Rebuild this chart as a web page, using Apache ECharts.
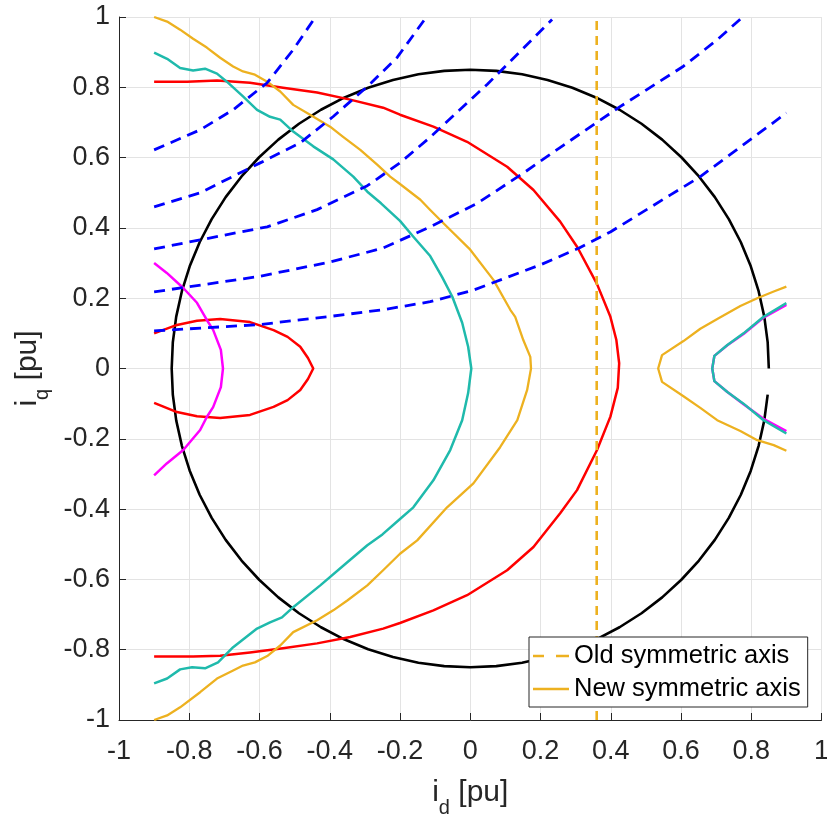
<!DOCTYPE html>
<html>
<head>
<meta charset="utf-8">
<title>Current trajectories in the dq plane</title>
<script src="https://cdn.jsdelivr.net/npm/echarts@6/dist/echarts.min.js"></script>
<style>
  html, body { margin: 0; padding: 0; background: #fff; }
  #chart { width: 827px; height: 819px; }
</style>
</head>
<body>
<div id="chart"></div>
<script>
// Axis ticks (per-unit)
const xTicks = [-1, -0.8, -0.6, -0.4, -0.2, 0, 0.2, 0.4, 0.6, 0.8, 1];
const yTicks = [-1, -0.8, -0.6, -0.4, -0.2, 0, 0.2, 0.4, 0.6, 0.8, 1];

// Current limit circle, |i| = 0.85 pu, sampled every 5 degrees from 0 to 355
const currentLimit = [
  [0.85, 0], [0.8468, 0.0741], [0.8371, 0.1476], [0.821, 0.22], [0.7987, 0.2907], [0.7704, 0.3592],
  [0.7361, 0.425], [0.6963, 0.4876], [0.6511, 0.5464], [0.601, 0.601], [0.5464, 0.6511], [0.4876, 0.6963],
  [0.425, 0.7361], [0.3592, 0.7704], [0.2907, 0.7987], [0.22, 0.821], [0.1476, 0.8371], [0.0741, 0.8468],
  [0, 0.85], [-0.0741, 0.8468], [-0.1476, 0.8371], [-0.22, 0.821], [-0.2907, 0.7987], [-0.3592, 0.7704],
  [-0.425, 0.7361], [-0.4876, 0.6963], [-0.5464, 0.6511], [-0.601, 0.601], [-0.6511, 0.5464], [-0.6963, 0.4876],
  [-0.7361, 0.425], [-0.7704, 0.3592], [-0.7987, 0.2907], [-0.821, 0.22], [-0.8371, 0.1476], [-0.8468, 0.0741],
  [-0.85, 0], [-0.8468, -0.0741], [-0.8371, -0.1476], [-0.821, -0.22], [-0.7987, -0.2907], [-0.7704, -0.3592],
  [-0.7361, -0.425], [-0.6963, -0.4876], [-0.6511, -0.5464], [-0.601, -0.601], [-0.5464, -0.6511], [-0.4876, -0.6963],
  [-0.425, -0.7361], [-0.3592, -0.7704], [-0.2907, -0.7987], [-0.22, -0.821], [-0.1476, -0.8371], [-0.0741, -0.8468],
  [0, -0.85], [0.0741, -0.8468], [0.1476, -0.8371], [0.22, -0.821], [0.2907, -0.7987], [0.3592, -0.7704],
  [0.425, -0.7361], [0.4876, -0.6963], [0.5464, -0.6511], [0.601, -0.601], [0.6511, -0.5464], [0.6963, -0.4876],
  [0.7361, -0.425], [0.7704, -0.3592], [0.7987, -0.2907], [0.821, -0.22], [0.8371, -0.1476], [0.8468, -0.0741]
];

// Large red contour
const redOuter = [
  [-0.9, 0.816], [-0.806, 0.816], [-0.721, 0.819], [-0.627, 0.813], [-0.533, 0.799], [-0.436, 0.785],
  [-0.342, 0.765], [-0.248, 0.742], [-0.2, 0.722], [-0.105, 0.688], [-0.009, 0.645], [0.105, 0.574],
  [0.18, 0.508], [0.256, 0.418], [0.305, 0.345], [0.361, 0.24], [0.399, 0.147], [0.416, 0.081],
  [0.424, 0.015], [0.42, -0.055], [0.399, -0.137], [0.361, -0.232], [0.304, -0.346], [0.256, -0.412],
  [0.18, -0.508], [0.105, -0.574], [-0.009, -0.645], [-0.105, -0.688], [-0.2, -0.724], [-0.248, -0.74],
  [-0.342, -0.764], [-0.436, -0.782], [-0.533, -0.796], [-0.627, -0.808], [-0.712, -0.817], [-0.789, -0.819],
  [-0.9, -0.819]
];

// Small red contour on the left
const redInner = [
  [-0.9, 0.1], [-0.835, 0.124], [-0.778, 0.136], [-0.712, 0.141], [-0.627, 0.132], [-0.56, 0.109],
  [-0.52, 0.09], [-0.484, 0.062], [-0.462, 0.03], [-0.447, 0], [-0.462, -0.03], [-0.484, -0.061],
  [-0.52, -0.09], [-0.56, -0.109], [-0.627, -0.132], [-0.712, -0.141], [-0.778, -0.136], [-0.835, -0.124],
  [-0.9, -0.098]
];

// Magenta contours
const magentaLeft = [
  [-0.9, 0.3], [-0.864, 0.272], [-0.817, 0.229], [-0.778, 0.187], [-0.75, 0.138], [-0.732, 0.11],
  [-0.71, 0.053], [-0.704, 0], [-0.71, -0.053], [-0.732, -0.11], [-0.75, -0.138], [-0.769, -0.175],
  [-0.817, -0.232], [-0.864, -0.27], [-0.9, -0.304]
];
const magentaRight = [
  [0.9, 0.181], [0.835, 0.145], [0.778, 0.098], [0.732, 0.066], [0.695, 0.036], [0.689, 0],
  [0.695, -0.036], [0.732, -0.067], [0.778, -0.102], [0.835, -0.143], [0.9, -0.178]
];

// Cyan contours
const cyanLeft = [
  [-0.9, 0.899], [-0.863, 0.881], [-0.826, 0.855], [-0.789, 0.848], [-0.755, 0.853], [-0.721, 0.839],
  [-0.693, 0.816], [-0.647, 0.774], [-0.607, 0.736], [-0.57, 0.716], [-0.541, 0.708], [-0.504, 0.674],
  [-0.447, 0.632], [-0.39, 0.595], [-0.333, 0.546], [-0.293, 0.503], [-0.254, 0.47], [-0.2, 0.42],
  [-0.162, 0.375], [-0.114, 0.32], [-0.08, 0.26], [-0.051, 0.204], [-0.023, 0.13], [-0.006, 0.062],
  [0.003, 0], [-0.006, -0.07], [-0.023, -0.147], [-0.057, -0.232], [-0.105, -0.318], [-0.162, -0.395],
  [-0.2, -0.428], [-0.25, -0.472], [-0.293, -0.503], [-0.35, -0.551], [-0.427, -0.617], [-0.504, -0.679],
  [-0.536, -0.708], [-0.57, -0.722], [-0.607, -0.74], [-0.675, -0.793], [-0.718, -0.836], [-0.755, -0.853],
  [-0.792, -0.85], [-0.826, -0.856], [-0.863, -0.882], [-0.9, -0.896]
];
const cyanRight = [
  [0.9, 0.186], [0.835, 0.147], [0.778, 0.1], [0.732, 0.067], [0.695, 0.036], [0.689, 0],
  [0.695, -0.036], [0.732, -0.067], [0.778, -0.1], [0.835, -0.147], [0.9, -0.185]
];

// New symmetric axis (yellow contours)
const newAxisLeft = [
  [-0.9, 1.0], [-0.863, 0.987], [-0.826, 0.964], [-0.789, 0.938], [-0.75, 0.913], [-0.712, 0.884],
  [-0.675, 0.859], [-0.647, 0.845], [-0.613, 0.836], [-0.578, 0.816], [-0.541, 0.788], [-0.504, 0.75],
  [-0.456, 0.722], [-0.399, 0.688], [-0.362, 0.659], [-0.313, 0.622], [-0.265, 0.58], [-0.228, 0.546],
  [-0.2, 0.525], [-0.142, 0.48], [-0.114, 0.451], [-0.077, 0.414], [0, 0.338], [0.066, 0.252],
  [0.114, 0.167], [0.128, 0.147], [0.151, 0.081], [0.171, 0.033], [0.173, 0], [0.162, -0.061],
  [0.134, -0.147], [0.085, -0.224], [0.009, -0.327], [-0.066, -0.395], [-0.151, -0.489], [-0.2, -0.527],
  [-0.248, -0.574], [-0.293, -0.617], [-0.35, -0.66], [-0.39, -0.688], [-0.436, -0.716], [-0.504, -0.75],
  [-0.541, -0.788], [-0.578, -0.818], [-0.613, -0.836], [-0.647, -0.845], [-0.675, -0.859], [-0.721, -0.882],
  [-0.769, -0.921], [-0.826, -0.964], [-0.863, -0.987], [-0.9, -1.0]
];
const newAxisRight = [
  [0.9, 0.233], [0.864, 0.219], [0.817, 0.2], [0.769, 0.178], [0.707, 0.143], [0.655, 0.113],
  [0.607, 0.078], [0.546, 0.038], [0.535, 0], [0.546, -0.038], [0.607, -0.079], [0.655, -0.112],
  [0.703, -0.147], [0.769, -0.178], [0.817, -0.204], [0.864, -0.218], [0.9, -0.234]
];

// Old symmetric axis (vertical line)
const oldAxisX = 0.36;
const oldAxis = [[oldAxisX, -1], [oldAxisX, 1]];

// Constant-torque lines (blue dashed)
const torque1 = [
  [-0.9, 0.107], [-0.6, 0.125], [-0.4, 0.148], [-0.25, 0.167], [-0.114, 0.19], [0.009, 0.223],
  [0.2, 0.295], [0.31, 0.343], [0.4, 0.389], [0.57, 0.494], [0.655, 0.546], [0.9, 0.727]
];
const torque2 = [
  [-0.9, 0.218], [-0.6, 0.262], [-0.4, 0.303], [-0.25, 0.342], [-0.114, 0.403], [0.02, 0.47],
  [0.15, 0.555], [0.265, 0.635], [0.422, 0.742], [0.607, 0.86], [0.703, 0.935], [0.77, 0.995]
];
const torque3 = [
  [-0.9, 0.34], [-0.769, 0.366], [-0.578, 0.403], [-0.436, 0.452], [-0.293, 0.52], [-0.2, 0.585],
  [-0.114, 0.658], [0.048, 0.808], [0.233, 0.993]
];
const torque4 = [
  [-0.9, 0.46], [-0.769, 0.5], [-0.598, 0.585], [-0.484, 0.642], [-0.39, 0.717], [-0.293, 0.802],
  [-0.208, 0.885], [-0.132, 0.99]
];
const torque5 = [
  [-0.9, 0.622], [-0.769, 0.679], [-0.675, 0.736], [-0.578, 0.813], [-0.504, 0.907], [-0.442, 0.998]
];

const FONT = '"Liberation Sans", Arial, Helvetica, sans-serif';
const INK = '#262626';
const YELLOW = '#EDB120';
const CYAN = '#1FBAAC';

function curve(name, data, color, width, dash, z) {
  return {
    name: name,
    type: 'line',
    data: data,
    symbol: 'none',
    showSymbol: false,
    silent: true,
    z: z || 2,
    lineStyle: { color: color, width: width, type: dash || 'solid', cap: 'butt', join: 'round' },
    itemStyle: { color: color }
  };
}

const labelRich = {
  v: { fontSize: 30, fontFamily: FONT, color: INK, verticalAlign: 'bottom', padding: [0, 0, 10, 0] },
  s: { fontSize: 20, fontFamily: FONT, color: INK, verticalAlign: 'bottom' }
};

// Legend samples: a dashed and a solid stroke, 36 x 2.5 px
const dashedIcon = 'path://M0,0H11V2.5H0Z M23,0H36V2.5H23Z';
const solidIcon = 'path://M0,0H36V2.5H0Z';

const chart = echarts.init(document.getElementById('chart'), null, { renderer: 'canvas' });

chart.setOption({
  animation: false,
  backgroundColor: '#ffffff',
  grid: { left: 119, right: 5.5, top: 17, bottom: 99, containLabel: false, outerBoundsMode: 'none' },
  legend: {
    data: [
      { name: 'Old symmetric axis', icon: dashedIcon },
      { name: 'New symmetric axis', icon: solidIcon }
    ],
    z: 20,
    orient: 'vertical',
    left: 529,
    top: 637,
    itemWidth: 36,
    itemHeight: 2.5,
    itemGap: 7,
    padding: [6, 7, 5, 4],
    backgroundColor: '#ffffff',
    borderColor: INK,
    borderWidth: 1,
    borderRadius: 0,
    selectedMode: false,
    textStyle: { fontFamily: FONT, fontSize: 25.5, color: '#000000', lineHeight: 26 }
  },
  xAxis: {
    type: 'value',
    min: xTicks[0],
    max: xTicks[xTicks.length - 1],
    interval: 0.2,
    name: '{v|i}{s|d}{v| [pu]}',
    nameLocation: 'middle',
    nameGap: 58,
    nameTextStyle: { rich: labelRich },
    axisLine: { show: true, onZero: false, lineStyle: { color: INK, width: 1 } },
    axisTick: { show: true, inside: true, length: 7, lineStyle: { color: INK, width: 1 } },
    axisLabel: { fontFamily: FONT, fontSize: 27, color: INK, margin: 18, showMinLabel: true, showMaxLabel: true },
    splitLine: { show: true, lineStyle: { color: '#e3e3e3', width: 1 } }
  },
  yAxis: {
    type: 'value',
    min: yTicks[0],
    max: yTicks[yTicks.length - 1],
    interval: 0.2,
    name: '{v|i}{s|q}{v| [pu]}',
    nameLocation: 'middle',
    nameGap: 64,
    nameTextStyle: { rich: labelRich },
    axisLine: { show: true, onZero: false, lineStyle: { color: INK, width: 1 } },
    axisTick: { show: true, inside: true, length: 7, lineStyle: { color: INK, width: 1 } },
    axisLabel: { fontFamily: FONT, fontSize: 27, color: INK, margin: 9, showMinLabel: true, showMaxLabel: true },
    splitLine: { show: true, lineStyle: { color: '#e3e3e3', width: 1 } }
  },
  series: [
    curve('circle', currentLimit, '#000000', 2.6, 'solid', 2),
    curve('red outer', redOuter, '#FF0000', 2.5, 'solid', 3),
    curve('red inner', redInner, '#FF0000', 2.5, 'solid', 3),
    curve('magenta left', magentaLeft, '#FF00FF', 2.5, 'solid', 3),
    curve('magenta right', magentaRight, '#FF00FF', 2.5, 'solid', 3),
    curve('cyan left', cyanLeft, CYAN, 2.5, 'solid', 4),
    curve('cyan right', cyanRight, CYAN, 2.5, 'solid', 4),
    curve('New symmetric axis', newAxisLeft, YELLOW, 2.3, 'solid', 4),
    curve('New symmetric axis', newAxisRight, YELLOW, 2.3, 'solid', 4),
    curve('Old symmetric axis', oldAxis, YELLOW, 2.6, [9, 6], 5),
    curve('torque 1', torque1, '#0000FF', 2.8, [11, 7], 6),
    curve('torque 2', torque2, '#0000FF', 2.8, [11, 7], 6),
    curve('torque 3', torque3, '#0000FF', 2.8, [11, 7], 6),
    curve('torque 4', torque4, '#0000FF', 2.8, [11, 7], 6),
    curve('torque 5', torque5, '#0000FF', 2.8, [11, 7], 6)
  ]
});
</script>
</body>
</html>
